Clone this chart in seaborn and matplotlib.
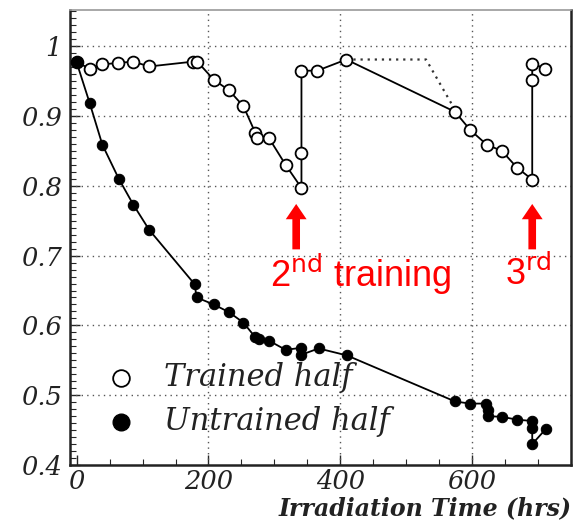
import matplotlib
matplotlib.use("Agg")
import matplotlib.pyplot as plt
from matplotlib.ticker import MultipleLocator
import seaborn as sns
import pandas as pd

# Irradiation time (hrs) and relative response of the trained half
trained_t = [0, 20, 39, 62, 86, 110, 177, 183, 208, 231, 253, 271, 274, 292,
             317, 341, 341, 341, 365, 409, 574, 597, 622, 645, 668, 691, 691, 691, 711]
trained_v = [0.977, 0.968, 0.974, 0.976, 0.978, 0.971, 0.978, 0.978, 0.952, 0.937,
             0.914, 0.876, 0.868, 0.868, 0.830, 0.797, 0.847, 0.965, 0.965, 0.981,
             0.906, 0.880, 0.859, 0.850, 0.826, 0.809, 0.952, 0.975, 0.968]

# Untrained half
untrained_t = [0, 20, 39, 64, 86, 110, 179, 182, 208, 231, 253, 271, 276, 292,
               317, 341, 341, 367, 410, 574, 597, 621, 624, 624, 645, 668, 691, 691, 691, 712]
untrained_v = [0.977, 0.918, 0.859, 0.810, 0.773, 0.737, 0.659, 0.640, 0.630, 0.619,
               0.604, 0.583, 0.581, 0.578, 0.565, 0.568, 0.558, 0.567, 0.557, 0.491,
               0.488, 0.488, 0.479, 0.470, 0.469, 0.465, 0.463, 0.453, 0.430, 0.452]

# Dotted reference path after the 2nd training
dotted_t = [409, 530, 572]
dotted_v = [0.981, 0.981, 0.912]

x_ticks = [0, 200, 400, 600]
y_ticks = [0.4, 0.5, 0.6, 0.7, 0.8, 0.9, 1.0]
y_tick_labels = ["0.4", "0.5", "0.6", "0.7", "0.8", "0.9", "1"]

sns.set_style("white")
serif = ["DejaVu Serif"]

fig = plt.figure(figsize=(5.74, 5.24), dpi=100)
ax = fig.add_axes([0.122, 0.1126, 0.873, 0.8684])

df_tr = pd.DataFrame({"t": trained_t, "v": trained_v})
df_un = pd.DataFrame({"t": untrained_t, "v": untrained_v})

ax.plot(dotted_t, dotted_v, color="#333333", lw=1.6, ls=(0, (1, 2.2)), zorder=2)

sns.lineplot(data=df_un, x="t", y="v", sort=False, estimator=None, ax=ax,
             color="black", lw=1.3, marker="o", markersize=7.5,
             markerfacecolor="black", markeredgecolor="black", zorder=3)
sns.lineplot(data=df_tr, x="t", y="v", sort=False, estimator=None, ax=ax,
             color="black", lw=1.3, marker="o", markersize=8.5,
             markerfacecolor="white", markeredgecolor="black",
             markeredgewidth=1.3, zorder=4)
# first untrained point sits on top of the trained one
ax.plot(untrained_t[:1], untrained_v[:1], "o", color="black", ms=8, zorder=5)

ax.set_xlim(-10, 750)
ax.set_ylim(0.4, 1.052)
ax.set_xlabel("")
ax.set_ylabel("")

ax.set_xticks(x_ticks)
ax.set_xticklabels([str(v) for v in x_ticks])
ax.xaxis.set_minor_locator(MultipleLocator(50))
ax.set_yticks(y_ticks)
ax.set_yticklabels(y_tick_labels)
ax.yaxis.set_minor_locator(MultipleLocator(0.01))

ax.tick_params(axis="both", which="major", direction="in", length=7, width=1,
               labelsize=18.5)
ax.tick_params(axis="y", which="major", pad=6)
ax.tick_params(axis="x", which="major", pad=3)
ax.tick_params(axis="both", which="minor", direction="in", length=4, width=0.8)
ax.tick_params(axis="x", which="both", top=False, bottom=True)
ax.tick_params(axis="y", which="both", left=True, right=False)
for lab in ax.get_xticklabels() + ax.get_yticklabels():
    lab.set_family(serif)
    lab.set_style("italic")
    lab.set_color("#222222")

for x in [200, 400, 600]:
    ax.axvline(x, color="#555555", lw=1, ls=(0, (1, 3)), zorder=1)
for y in [0.5, 0.6, 0.7, 0.8, 0.9, 1.0]:
    ax.axhline(y, color="#555555", lw=1, ls=(0, (1, 3)), zorder=1)

for side in ["left", "bottom", "right"]:
    ax.spines[side].set_color("#222222")
    ax.spines[side].set_linewidth(1.8)
ax.spines["top"].set_color("#999999")
ax.spines["top"].set_linewidth(1.2)

fig.text(0.995, 0.008, "Irradiation Time (hrs)", ha="right", va="bottom",
         family=serif, style="italic", weight="bold", fontsize=17, color="#222222")

# legend
ax.plot([67], [0.525], "o", ms=12, mfc="white", mec="black", mew=1.3,
        clip_on=False, zorder=6)
ax.plot([67], [0.462], "o", ms=12, mfc="black", mec="black", clip_on=False, zorder=6)
ax.text(133, 0.525, "Trained half", va="center", ha="left", family=serif,
        style="italic", fontsize=22, color="#222222")
ax.text(133, 0.462, "Untrained half", va="center", ha="left", family=serif,
        style="italic", fontsize=22, color="#222222")

# training markers
red = "#ff0000"
arrow = dict(arrowstyle="simple,head_length=1.1,head_width=1.5,tail_width=0.55",
             color=red, lw=0)
ax.annotate("", xy=(333, 0.778), xytext=(333, 0.705), arrowprops=arrow)
ax.annotate("", xy=(691, 0.778), xytext=(691, 0.705), arrowprops=arrow)
ax.text(293, 0.673, r"2$^{\mathrm{nd}}$ training", color=red, ha="left", va="center",
        family=["Liberation Sans", "DejaVu Sans"], fontsize=26)
ax.text(650, 0.673, r"3$^{\mathrm{rd}}$", color=red, ha="left", va="center",
        family=["Liberation Sans", "DejaVu Sans"], fontsize=26)

fig.savefig("out.png", dpi=100, facecolor="white")
